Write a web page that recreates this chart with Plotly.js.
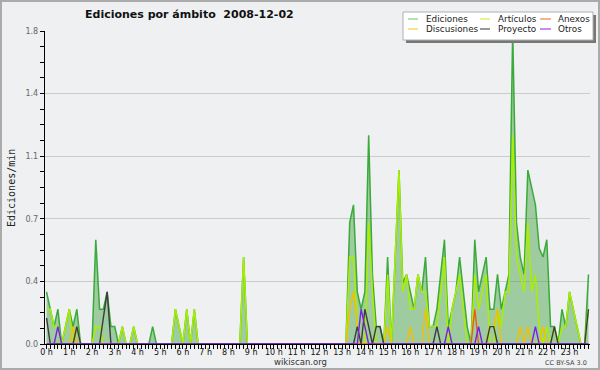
<!DOCTYPE html>
<html>
<head>
<meta charset="utf-8">
<script src="https://cdn.plot.ly/plotly-3.0.1.min.js"></script>
<style>
  html, body { margin: 0; padding: 0; background: #eff0f2; }
  #wrap { position: relative; width: 600px; height: 370px; }
  #chart { width: 600px; height: 370px; }
  #frame { position: absolute; left: 0; top: 0; width: 600px; height: 370px; box-sizing: border-box;
           border: 2px solid #ababab; pointer-events: none; }
</style>
</head>
<body>
<div id="wrap"><div id="chart"></div><div id="frame"></div></div>
<script>
// ---- Data: edits per minute, 10-minute slots from 00:00 to 23:50 (2008-12-02) ----
const hourLabels = ["0 h","1 h","2 h","3 h","4 h","5 h","6 h","7 h","8 h","9 h","10 h","11 h",
                    "12 h","13 h","14 h","15 h","16 h","17 h","18 h","19 h","20 h","21 h","22 h","23 h"];

const ediciones = [
  0.3,0.2,0.1,0.2,0,0.1,0.2,0.1,0.2,0,0,0,
  0,0.6,0.2,0.2,0.3,0.1,0.1,0,0.1,0,0,0.1,
  0,0,0,0,0.1,0,0,0,0,0,0.2,0.1,
  0,0.2,0,0.2,0,0,0,0,0,0,0,0,
  0,0,0,0,0.5,0,0,0,0,0,0,0,
  0,0,0,0,0,0,0,0,0,0,0,0,
  0,0,0,0,0,0,0,0,0.7,0.8,0.3,0.2,
  0.3,1.2,0.4,0.1,0.1,0,0.5,0,0.5,1.0,0.35,0.4,
  0.3,0.2,0.4,0.3,0.5,0.1,0.1,0.2,0.4,0.6,0.1,0.2,
  0.3,0.5,0.3,0.1,0,0.6,0.3,0.4,0.5,0.2,0.2,0.4,
  0.2,0.3,0.4,1.8,0.7,0.5,0.4,1.0,0.9,0.8,0.55,0.5,
  0.6,0.1,0.1,0,0.2,0.1,0.3,0.2,0.1,0,0,0.4
];
const articulos = [
  0.2,0.2,0.1,0.1,0,0.1,0.2,0,0.1,0,0,0,
  0,0.1,0.1,0,0,0,0,0,0.1,0,0,0.1,
  0,0,0,0,0,0,0,0,0,0,0.2,0.1,
  0,0.2,0,0.2,0,0,0,0,0,0,0,0,
  0,0,0,0,0.5,0,0,0,0,0,0,0,
  0,0,0,0,0,0,0,0,0,0,0,0,
  0,0,0,0,0,0,0,0,0.5,0.5,0.1,0,
  0,0.7,0.3,0,0,0,0.4,0,0.5,1.0,0.3,0.4,
  0.2,0.2,0.4,0.3,0.3,0.1,0.1,0.1,0.3,0.5,0,0.2,
  0.3,0.4,0.2,0,0,0.4,0.2,0.3,0.4,0,0,0.2,
  0.1,0.3,0.3,1.2,0.5,0.4,0.3,0.7,0.3,0.4,0.1,0,
  0.1,0,0.1,0,0.1,0.1,0.3,0.2,0.1,0,0,0.2
];
const anexos = [
  0,0,0,0,0,0,0,0,0,0,0,0,
  0,0,0,0,0,0,0,0,0,0,0,0,
  0,0,0,0,0,0,0,0,0,0,0,0,
  0,0,0,0,0,0,0,0,0,0,0,0,
  0,0,0,0,0,0,0,0,0,0,0,0,
  0,0,0,0,0,0,0,0,0,0,0,0,
  0,0,0,0,0,0,0,0,0,0,0,0,
  0,0,0,0,0,0,0,0,0,0,0,0,
  0,0,0,0,0,0,0,0,0,0,0,0,
  0,0,0,0,0,0.2,0,0,0,0,0,0,
  0,0,0,0,0,0,0,0,0,0,0,0,
  0,0,0,0,0,0,0,0,0,0,0,0
];
const discusiones = [
  0,0,0,0,0,0,0,0.1,0,0,0,0,
  0,0,0,0,0,0,0,0,0,0,0,0,
  0,0,0,0,0,0,0,0,0,0,0,0,
  0,0,0,0,0,0,0,0,0,0,0,0,
  0,0,0,0,0,0,0,0,0,0,0,0,
  0,0,0,0,0,0,0,0,0,0,0,0,
  0,0,0,0,0,0,0,0,0.2,0.3,0.1,0,
  0,0,0,0,0,0,0.1,0,0,0,0,0,
  0.1,0,0,0,0.2,0,0,0,0,0,0,0,
  0,0,0,0,0,0,0,0,0,0.1,0.1,0.2,
  0,0,0,0,0,0.1,0,0.1,0,0,0,0.1,
  0,0,0,0,0,0,0,0,0,0,0,0
];
const proyecto = [
  0.15,0,0,0,0,0,0,0,0.1,0,0,0,
  0,0,0,0.15,0.3,0,0,0,0,0,0,0,
  0,0,0,0,0,0,0,0,0,0,0,0,
  0,0,0,0,0,0,0,0,0,0,0,0,
  0,0,0,0,0,0,0,0,0,0,0,0,
  0,0,0,0,0,0,0,0,0,0,0,0,
  0,0,0,0,0,0,0,0,0,0,0.1,0,
  0.2,0.1,0,0.1,0.1,0,0,0,0,0,0,0,
  0,0,0,0,0,0,0,0.1,0,0,0,0,
  0,0,0,0,0,0,0,0,0,0.1,0.1,0,
  0,0,0,0,0,0,0,0,0,0,0,0,
  0,0,0.1,0,0,0,0,0,0,0,0,0.2
];
const otros = [
  0,0,0,0.1,0,0,0,0,0,0,0,0,
  0,0,0,0,0,0,0,0,0,0,0,0,
  0,0,0,0,0,0,0,0,0,0,0,0,
  0,0,0,0,0,0,0,0,0,0,0,0,
  0,0,0,0,0,0,0,0,0,0,0,0,
  0,0,0,0,0,0,0,0,0,0,0,0,
  0,0,0,0,0,0,0,0,0,0,0,0.2,
  0.1,0,0,0,0,0,0,0,0,0,0,0,
  0,0,0,0,0,0,0,0,0,0,0.1,0,
  0,0,0,0,0,0,0.1,0,0,0,0,0,
  0,0,0,0,0,0,0,0,0,0.1,0,0,
  0,0,0,0,0,0,0,0,0,0,0,0
];
const yTickVals = [0, 0.36, 0.72, 1.08, 1.44, 1.8];
const yTickText = ["0.0", "0.4", "0.7", "1.1", "1.4", "1.8"];
const title = "Ediciones por ámbito&nbsp; 2008-12-02";
const legendNames = ["Ediciones", "Artículos", "Anexos", "Discusiones", "Proyecto", "Otros"];

// ---- Rendering ----
const slotHours = ediciones.map((_, i) => i / 6);   // position of each 10-min slot in hours

const L = 45, R = 590, T = 31, B = 344;
const px = x => (x - L) / (R - L);
const py = y => (B - y) / (B - T);

const lineCol = {
  Ediciones: '#3aaa3a', 'Artículos': '#aaee00', Anexos: '#f05a10',
  Discusiones: '#f5bf00', Proyecto: '#3c3c3c', Otros: '#7a1fe6'
};
const legCol = {
  Ediciones: '#80d080', 'Artículos': '#d2f04a', Anexos: '#f08050',
  Discusiones: '#f8d040', Proyecto: '#555555', Otros: '#9a44f0'
};

function lineTrace(name, y, w) {
  return { x: slotHours, y: y, type: 'scatter', mode: 'lines', name: name,
           line: { color: lineCol[name], width: w || 1.4 }, hoverinfo: 'skip' };
}

const traces = [
  { x: slotHours, y: ediciones, type: 'scatter', mode: 'lines', name: 'Ediciones',
    fill: 'tozeroy', fillcolor: 'rgba(60,160,60,0.45)',
    line: { color: lineCol.Ediciones, width: 1.5 }, hoverinfo: 'skip' },
  lineTrace('Artículos', articulos, 1.5),
  lineTrace('Discusiones', discusiones),
  lineTrace('Anexos', anexos),
  lineTrace('Proyecto', proyecto),
  lineTrace('Otros', otros)
];

// custom legend (3 columns x 2 rows)
const colLine = [[408, 418], [480, 490], [540, 551]];
const colText = [424, 496, 556];
const rowY = [19, 29];
const shapes = [
  { type: 'rect', xref: 'paper', yref: 'paper', x0: px(406), x1: px(596), y0: py(43), y1: py(15),
    fillcolor: '#777777', line: { width: 0 }, layer: 'above' },
  { type: 'rect', xref: 'paper', yref: 'paper', x0: px(403), x1: px(593), y0: py(40), y1: py(12),
    fillcolor: '#ffffff', line: { color: '#b0b0b0', width: 1 }, layer: 'above' }
];
const annotations = [];
legendNames.forEach((n, k) => {
  const c = k % 3, r = Math.floor(k / 3);
  shapes.push({ type: 'line', xref: 'paper', yref: 'paper', x0: px(colLine[c][0]), x1: px(colLine[c][1]),
                y0: py(rowY[r]), y1: py(rowY[r]), line: { color: legCol[n], width: 1.2 }, layer: 'above' });
  annotations.push({ xref: 'paper', yref: 'paper', x: px(colText[c]), y: py(rowY[r]), text: n,
                     showarrow: false, xanchor: 'left', yanchor: 'middle',
                     font: { family: 'DejaVu Sans', size: 8.8, color: '#222' } });
});
annotations.push(
  { xref: 'paper', yref: 'paper', x: px(11), y: py(188), text: 'Ediciones/min', textangle: -90,
    showarrow: false, xanchor: 'center', yanchor: 'middle',
    font: { family: 'DejaVu Sans Mono', size: 10, color: '#222' } },
  { xref: 'paper', yref: 'paper', x: px(300), y: py(362), text: 'wikiscan.org',
    showarrow: false, xanchor: 'center', yanchor: 'middle',
    font: { family: 'DejaVu Sans', size: 8.5, color: '#333' } },
  { xref: 'paper', yref: 'paper', x: px(589), y: py(362.5), text: 'CC BY-SA 3.0',
    showarrow: false, xanchor: 'right', yanchor: 'middle',
    font: { family: 'DejaVu Sans', size: 6.5, color: '#444' } }
);

const layout = {
  width: 600, height: 370,
  margin: { l: L, r: 600 - R, t: T, b: 370 - B, pad: 0 },
  paper_bgcolor: '#eff0f2', plot_bgcolor: '#eff0f2',
  showlegend: false,
  title: { text: title, xref: 'container', yref: 'container', x: 85 / 600, xanchor: 'left',
           y: 1 - 14 / 370, yanchor: 'middle',
           font: { family: 'DejaVu Sans', size: 11, weight: 700, color: '#111' } },
  xaxis: {
    range: [-0.4 / 6, 143.4 / 6], tickmode: 'array', tickvals: hourLabels.map((_, h) => h),
    ticktext: hourLabels, ticks: 'outside', ticklen: 4, tickcolor: '#000', tickwidth: 1,
    showline: true, linecolor: '#000', linewidth: 1, showgrid: false, zeroline: false,
    ticklabelstandoff: -4,
    tickfont: { family: 'DejaVu Sans', size: 8, color: '#111' },
    minor: { tickmode: 'linear', tick0: 0, dtick: 1 / 6, ticks: 'outside', ticklen: 4,
             tickcolor: '#000', tickwidth: 1, showgrid: false },
    fixedrange: true
  },
  yaxis: {
    range: [0, 1.8], tickmode: 'array', tickvals: yTickVals, ticktext: yTickText,
    ticks: 'outside', ticklen: 4, tickcolor: '#000', tickwidth: 1,
    showline: true, linecolor: '#000', linewidth: 1.2,
    showgrid: true, gridcolor: '#cbcbcb', gridwidth: 1, zeroline: false,
    tickfont: { family: 'DejaVu Sans', size: 8, color: '#666' },
    minor: { tickmode: 'linear', tick0: 0, dtick: 0.09, ticks: 'outside', ticklen: 4,
             tickcolor: '#000', tickwidth: 1, showgrid: false },
    fixedrange: true
  },
  shapes: shapes,
  annotations: annotations
};

Plotly.newPlot('chart', traces, layout, { displayModeBar: false, staticPlot: true });
</script>
</body>
</html>
